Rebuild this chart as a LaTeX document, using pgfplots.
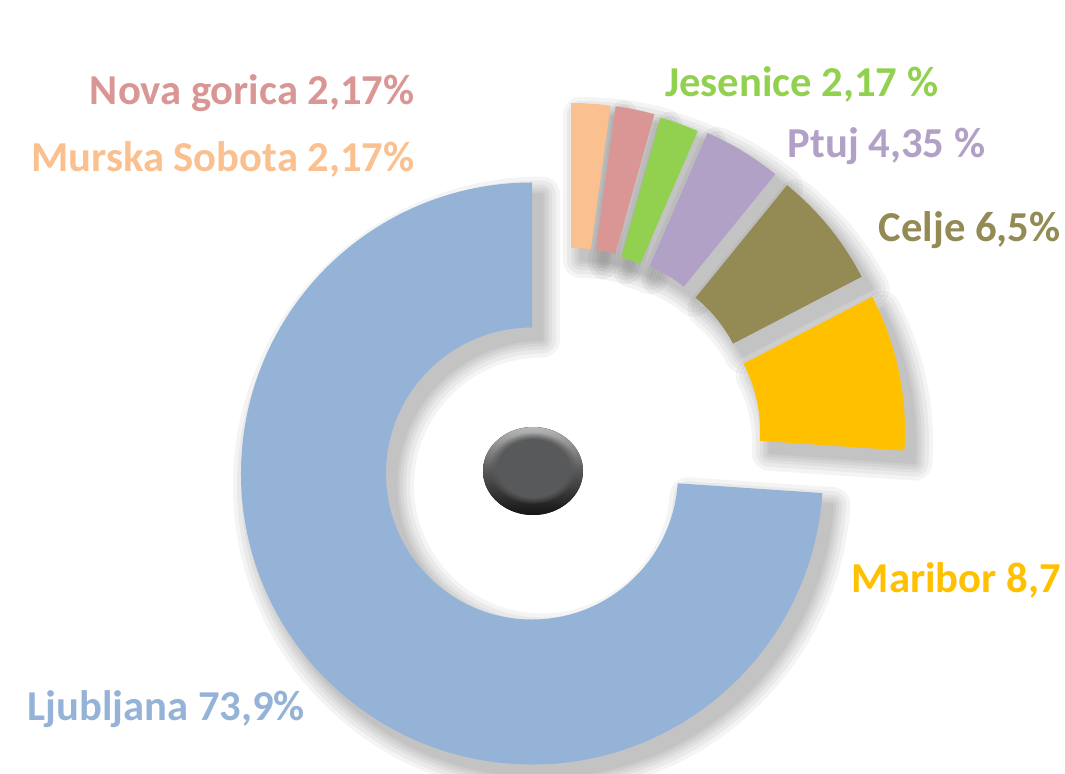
\documentclass[border=0pt]{standalone}
\usepackage{fontspec}
\setmainfont{Carlito}
\usepackage{pgfplots}
\pgfplotsset{compat=1.18}
\usetikzlibrary{fadings}
\definecolor{cLj}{HTML}{95B3D7}
\definecolor{cMa}{HTML}{FFC000}
\definecolor{cCe}{HTML}{948A54}
\definecolor{cPt}{HTML}{B2A1C7}
\definecolor{cJe}{HTML}{92D050}
\definecolor{cNG}{HTML}{D99694}
\definecolor{cMS}{HTML}{FAC090}
\definecolor{cBall}{HTML}{58595B}
% sector: options, cx, cy, start angle, end angle (radii 291 px and 146 px; 1 px = 0.5bp)
\newcommand{\sector}[5]{%
  \fill[#1] (axis cs:{#2+146*cos(#4)},{#3+146*sin(#4)})
    -- (axis cs:{#2+291*cos(#4)},{#3+291*sin(#4)})
    arc[start angle=#4,end angle=#5,radius=145.5bp]
    -- (axis cs:{#2+146*cos(#5)},{#3+146*sin(#5)})
    arc[start angle=#5,end angle=#4,radius=73bp] -- cycle;}
\newcommand{\shadowlayer}[5]{%
  \begin{scope}[transparency group,opacity=0.042]
  \sector{black,draw=black,line width=#5,line join=round}{#1+10}{#2-12}{#3}{#4}
  \end{scope}}
\newcommand{\shadowsector}[4]{%
  \shadowlayer{#1}{#2}{#3}{#4}{18bp}%
  \shadowlayer{#1}{#2}{#3}{#4}{14bp}%
  \shadowlayer{#1}{#2}{#3}{#4}{10bp}%
  \shadowlayer{#1}{#2}{#3}{#4}{7bp}%
  \shadowlayer{#1}{#2}{#3}{#4}{4bp}%
  \shadowlayer{#1}{#2}{#3}{#4}{1.5bp}}
\begin{document}
\begin{tikzpicture}
% values (percent)
\def\vLj{73.9}\def\vMa{8.7}\def\vCe{6.5}\def\vPt{4.35}\def\vJe{2.17}\def\vNG{2.17}\def\vMS{2.17}
\pgfmathsetmacro\k{360/(\vLj+\vMa+\vCe+\vPt+\vJe+\vNG+\vMS)}
\pgfmathsetmacro\aA{90}
\pgfmathsetmacro\aB{\aA-\vMS*\k}
\pgfmathsetmacro\aC{\aB-\vNG*\k}
\pgfmathsetmacro\aD{\aC-\vJe*\k}
\pgfmathsetmacro\aE{\aD-\vPt*\k}
\pgfmathsetmacro\aF{\aE-\vCe*\k}
\pgfmathsetmacro\aG{\aF-\vMa*\k}
\pgfmathsetmacro\aH{\aG-\vLj*\k}
\begin{axis}[x=0.5bp,y=0.5bp,xmin=0,xmax=1065,ymin=0,ymax=773,
  hide axis,clip=false,scale only axis]
% shadows
\shadowsector{532}{299.5}{\aG}{\aH}
\shadowsector{532+82}{299.5+42.5}{\aF}{\aG}
\shadowsector{532+71.5}{299.5+62.5}{\aE}{\aF}
\shadowsector{532+59.7}{299.5+73.5}{\aD}{\aE}
\shadowsector{532+50}{299.5+75.5}{\aC}{\aD}
\shadowsector{532+44}{299.5+79}{\aB}{\aC}
\shadowsector{532+39}{299.5+79.5}{\aA}{\aB}
% sectors
\sector{cLj}{532}{299.5}{\aG}{\aH}
\sector{cMa}{532+82}{299.5+42.5}{\aF}{\aG}
\sector{cCe}{532+71.5}{299.5+62.5}{\aE}{\aF}
\sector{cPt}{532+59.7}{299.5+73.5}{\aD}{\aE}
\sector{cJe}{532+50}{299.5+75.5}{\aC}{\aD}
\sector{cNG}{532+44}{299.5+79}{\aB}{\aC}
\sector{cMS}{532+39}{299.5+79.5}{\aA}{\aB}
% centre button
\fill[top color=black!28,bottom color=black!92,middle color=black!66] (axis cs:533,302) ellipse[x radius=25bp,y radius=22bp];
\fill[cBall,path fading=circle with fuzzy edge 20 percent] (axis cs:533,305) ellipse[x radius=22bp,y radius=18bp];
% labels
\tikzset{lab/.style={inner sep=0pt,font=\fontsize{21.4}{25}\selectfont\bfseries}}
\node[lab,anchor=base east,text=cNG] at (axis cs:415,668) {Nova gorica 2,17\%};
\node[lab,anchor=base east,text=cMS] at (axis cs:415,601) {Murska Sobota 2,17\%};
\node[lab,anchor=base west,text=cJe] at (axis cs:665,676) {Jesenice 2,17 \%};
\node[lab,anchor=base west,text=cPt] at (axis cs:787,615) {Ptuj 4,35 \%};
\node[lab,anchor=base east,text=cCe] at (axis cs:1061,531) {Celje 6,5\%};
\node[lab,anchor=base east,text=cMa] at (axis cs:1061,181) {Maribor 8,7};
\node[lab,anchor=base west,text=cLj] at (axis cs:27,53) {Ljubljana 73,9\%};
\end{axis}
\pgfresetboundingbox
\path (current axis.south west) rectangle (current axis.north east);
\end{tikzpicture}
\end{document}
